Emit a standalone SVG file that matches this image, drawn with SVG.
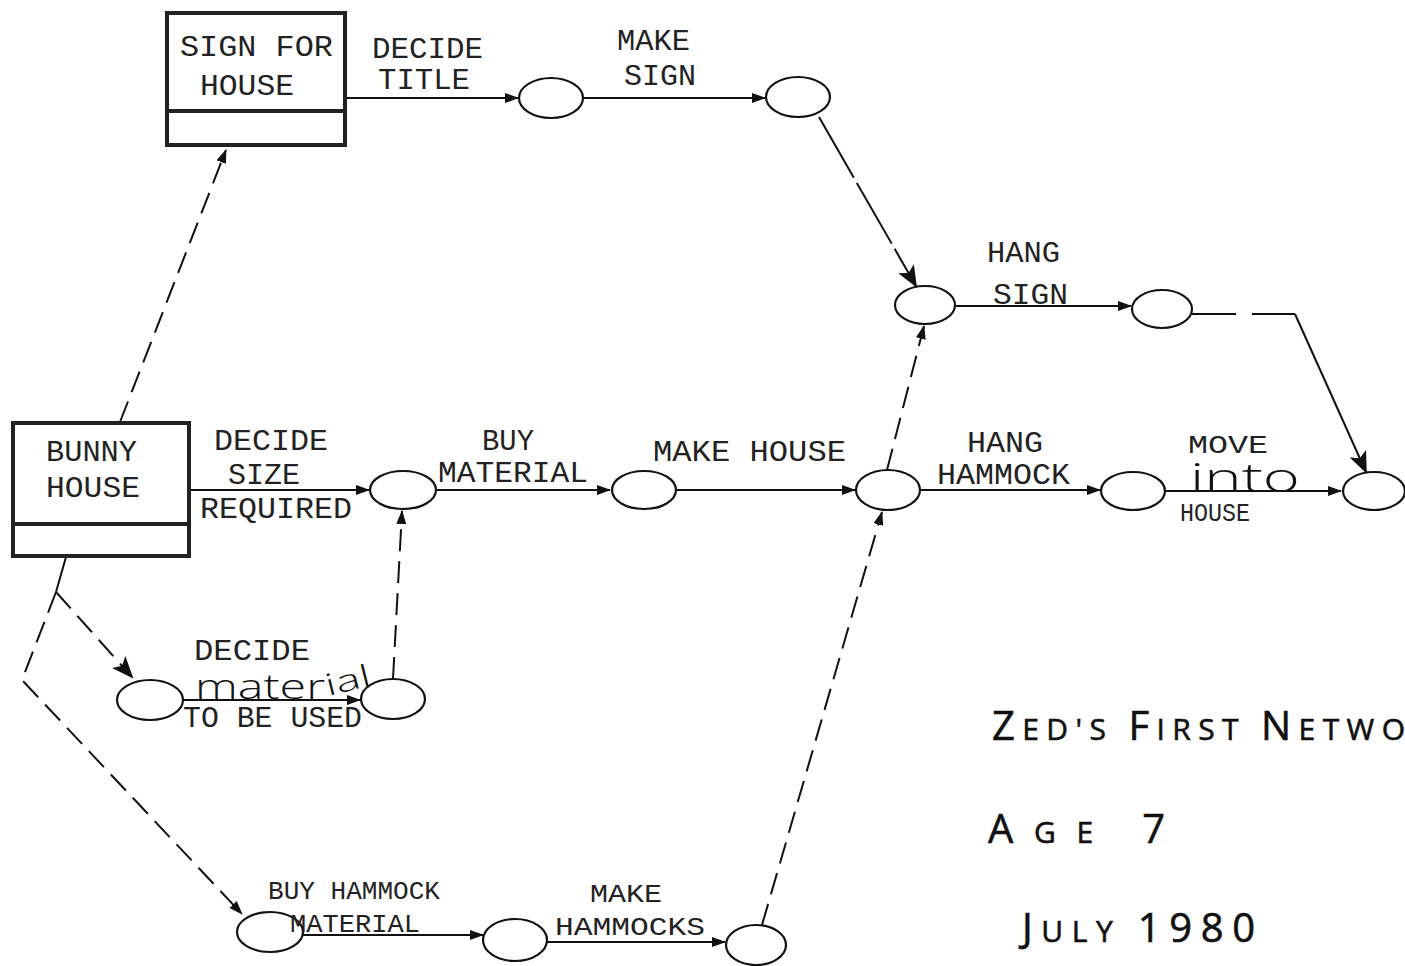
<svg xmlns="http://www.w3.org/2000/svg" width="1405" height="966" viewBox="0 0 1405 966">
<style>
.t{font-family:"Liberation Mono","DejaVu Sans Mono",monospace;font-size:29px;fill:#222}
.s{font-size:25px}
.h{font-family:"Open Sans","Liberation Sans",sans-serif;font-weight:300;fill:#111}
.k{font-family:"Open Sans","Liberation Sans",sans-serif;font-weight:400;font-size:30px;fill:#111;stroke:#111;stroke-width:0.6}
.B{font-size:40px}
.e{fill:none;stroke:#111;stroke-width:2.2}
.b{fill:#fff;stroke:#222;stroke-width:4}
.c{fill:none;stroke:#111;stroke-width:2}
.d{fill:none;stroke:#111;stroke-width:2;stroke-dasharray:22 10}
</style>
<defs>
<marker id="a" markerWidth="14" markerHeight="10" refX="13" refY="5" orient="auto" markerUnits="userSpaceOnUse">
<path d="M0,0 L14,5 L0,10 Z" fill="#111"/>
</marker>
<marker id="A" markerWidth="22" markerHeight="18" refX="20" refY="9" orient="auto" markerUnits="userSpaceOnUse">
<path d="M0,0 L22,9 L0,18 L5,9 Z" fill="#111"/>
</marker>
</defs>
<rect width="1405" height="966" fill="#fff"/>

<g id="connectors">
<path class="c" d="M346,98 H518" marker-end="url(#a)"/>
<path class="c" d="M584,98 H765" marker-end="url(#a)"/>
<path class="c" d="M819,117 L916,286" stroke-width="2.5" stroke-dasharray="70 6" marker-end="url(#A)"/>
<path class="c" d="M956,306 H1131" marker-end="url(#a)"/>
<path class="c" d="M1192,314 H1295" stroke-dasharray="44 16"/>
<path class="c" d="M1295,314 L1366,472" stroke-width="2.5" marker-end="url(#A)"/>
<path class="c" d="M190,490 H369" marker-end="url(#a)"/>
<path class="c" d="M436,490 H610" marker-end="url(#a)"/>
<path class="c" d="M677,490 H855" marker-end="url(#a)"/>
<path class="c" d="M920,490 H1100" marker-end="url(#a)"/>
<path class="c" d="M1166,491 H1341" marker-end="url(#a)"/>
<path class="d" d="M887,470 L924,326" stroke-dasharray="26 10" marker-end="url(#a)"/>
<path class="d" d="M762,925 L882,512" stroke-dasharray="38 14" marker-end="url(#a)"/>
<path class="d" d="M120,422 L226,150" marker-end="url(#a)"/>
<path class="c" d="M66,557 L56,592"/>
<path class="d" d="M56,592 L132,677" stroke-dasharray="14 6" marker-end="url(#A)"/>
<path class="d" d="M56,592 L22,680 L242,914" stroke-dasharray="30 12" marker-end="url(#a)"/>
<path class="d" d="M393,679 L402,511" stroke-dasharray="40 14" marker-end="url(#a)"/>
<path class="c" d="M183,700 H360" marker-end="url(#a)"/>
<path class="c" d="M303,935 H483" marker-end="url(#a)"/>
<path class="c" d="M547,942 H725" marker-end="url(#a)"/>
</g>

<g id="sign-for-house">
<rect class="b" x="167" y="13" width="178" height="132"/>
<line x1="167" y1="111" x2="345" y2="111" stroke="#222" stroke-width="4"/>
<text class="t" x="180" y="56" textLength="153" lengthAdjust="spacingAndGlyphs">SIGN FOR</text>
<text class="t" x="200" y="95" textLength="94" lengthAdjust="spacingAndGlyphs">HOUSE</text>
</g>

<g id="bunny-house">
<rect class="b" x="13" y="423" width="176" height="133"/>
<line x1="13" y1="524" x2="189" y2="524" stroke="#222" stroke-width="4"/>
<text class="t" x="46" y="461" textLength="91" lengthAdjust="spacingAndGlyphs">BUNNY</text>
<text class="t" x="46" y="497" textLength="94" lengthAdjust="spacingAndGlyphs">HOUSE</text>
</g>

<g id="e1"><ellipse class="e" cx="551" cy="98" rx="32" ry="20"/></g>
<g id="e2"><ellipse class="e" cx="798" cy="97" rx="32" ry="20"/></g>
<g id="e3"><ellipse class="e" cx="925" cy="305" rx="30" ry="19"/></g>
<g id="e4"><ellipse class="e" cx="1162" cy="309" rx="30" ry="19"/></g>
<g id="e5"><ellipse class="e" cx="403" cy="490" rx="33" ry="19"/></g>
<g id="e6"><ellipse class="e" cx="644" cy="490" rx="32" ry="19"/></g>
<g id="e7"><ellipse class="e" cx="888" cy="490" rx="32" ry="20"/></g>
<g id="e8"><ellipse class="e" cx="1133" cy="491" rx="32" ry="19"/></g>
<g id="e9"><ellipse class="e" cx="1374" cy="491" rx="31" ry="19"/></g>
<g id="e10"><ellipse class="e" cx="150" cy="700" rx="33" ry="20"/></g>
<g id="e11"><ellipse class="e" cx="393" cy="699" rx="32" ry="20"/></g>
<g id="e12"><ellipse class="e" cx="270" cy="932" rx="33" ry="20"/></g>
<g id="e13"><ellipse class="e" cx="515" cy="940" rx="32" ry="21"/></g>
<g id="e14"><ellipse class="e" cx="756" cy="945" rx="30" ry="20"/></g>

<g id="labels">
<text class="t" x="372" y="58" textLength="111" lengthAdjust="spacingAndGlyphs">DECIDE</text>
<text class="t" x="378" y="89" textLength="92" lengthAdjust="spacingAndGlyphs">TITLE</text>
<text class="t" x="617" y="50" textLength="73" lengthAdjust="spacingAndGlyphs">MAKE</text>
<text class="t" x="624" y="85" textLength="72" lengthAdjust="spacingAndGlyphs">SIGN</text>
<text class="t" x="987" y="262" textLength="73" lengthAdjust="spacingAndGlyphs">HANG</text>
<text class="t" x="993" y="304" textLength="75" lengthAdjust="spacingAndGlyphs">SIGN</text>
<text class="t" x="214" y="450" textLength="114" lengthAdjust="spacingAndGlyphs">DECIDE</text>
<text class="t" x="228" y="484" textLength="72" lengthAdjust="spacingAndGlyphs">SIZE</text>
<text class="t" x="200" y="518" textLength="152" lengthAdjust="spacingAndGlyphs">REQUIRED</text>
<text class="t" x="482" y="450" textLength="52" lengthAdjust="spacingAndGlyphs">BUY</text>
<text class="t" x="438" y="482" textLength="150" lengthAdjust="spacingAndGlyphs">MATERIAL</text>
<text class="t" x="653" y="461" textLength="193" lengthAdjust="spacingAndGlyphs">MAKE HOUSE</text>
<text class="t" x="967" y="452" textLength="76" lengthAdjust="spacingAndGlyphs">HANG</text>
<text class="t" x="937" y="484" textLength="133" lengthAdjust="spacingAndGlyphs">HAMMOCK</text>
<text class="t s" x="1188" y="453" textLength="80" lengthAdjust="spacingAndGlyphs">MOVE</text>
<text class="h" x="1190" y="492" font-size="40" textLength="110" lengthAdjust="spacingAndGlyphs">into</text>
<text class="t s" x="1180" y="521" textLength="70" lengthAdjust="spacingAndGlyphs">HOUSE</text>
<text class="t" x="194" y="660" textLength="116" lengthAdjust="spacingAndGlyphs">DECIDE</text>
<text class="h" x="195" y="699" font-size="34" font-weight="400" textLength="130" lengthAdjust="spacingAndGlyphs">mater</text>
<text class="h" font-size="30" font-weight="400" transform="translate(328,696) rotate(-14)" textLength="46" lengthAdjust="spacingAndGlyphs">ial</text>
<text class="t" x="183" y="727" textLength="179" lengthAdjust="spacingAndGlyphs">TO BE USED</text>
<text class="t s" x="268" y="899" textLength="172" lengthAdjust="spacingAndGlyphs">BUY HAMMOCK</text>
<text class="t s" x="290" y="932" textLength="130" lengthAdjust="spacingAndGlyphs">MATERIAL</text>
<text class="t s" x="590" y="902" textLength="72" lengthAdjust="spacingAndGlyphs">MAKE</text>
<text class="t s" x="555" y="935" textLength="150" lengthAdjust="spacingAndGlyphs">HAMMOCKS</text>
</g>

<g id="title">
<text class="k" x="992" y="740" textLength="413" lengthAdjust="spacing"><tspan class="B">Z</tspan>ED'S  <tspan class="B">F</tspan>IRST  <tspan class="B">N</tspan>ETWO</text>
<text class="k" x="988" y="843" textLength="177" lengthAdjust="spacing"><tspan class="B">A</tspan>GE   <tspan class="B">7</tspan></text>
<text class="k" x="1022" y="942" textLength="233" lengthAdjust="spacing"><tspan class="B">J</tspan>ULY   <tspan class="B">1980</tspan></text>
</g>
</svg>
